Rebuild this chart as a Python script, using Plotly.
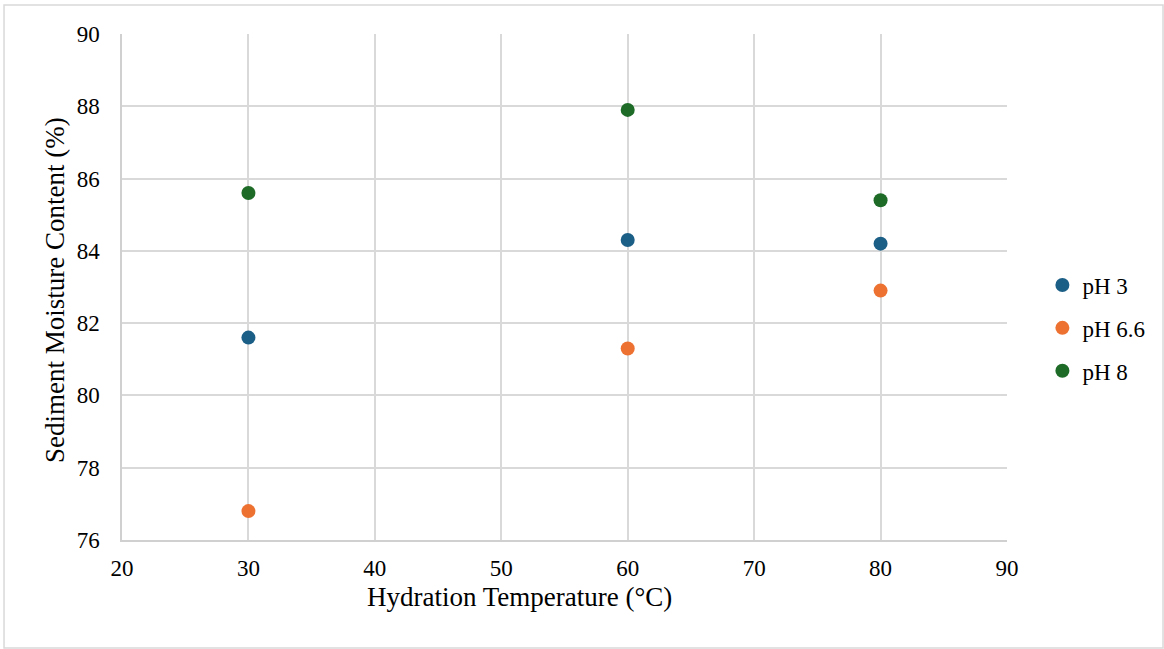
import plotly.graph_objects as go

temps = [30, 60, 80]
ph3 = [81.6, 84.3, 84.2]
ph66 = [76.8, 81.3, 82.9]
ph8 = [85.6, 87.9, 85.4]
names = ["pH 3", "pH 6.6", "pH 8"]
colors = ["#1b5e86", "#ed7232", "#1d6b27"]

fig = go.Figure()
for i, (nm, ys, c) in enumerate(zip(names, [ph3, ph66, ph8], colors)):
    fig.add_trace(go.Scatter(x=temps, y=ys, mode="markers", name=nm,
                             legendgroup=nm,
                             marker=dict(size=14, color=c)))

font = "Liberation Serif"
tf = dict(family=font, size=23, color="black")
fig.update_layout(
    width=1164, height=649,
    margin=dict(l=122, r=157, t=34, b=109),
    paper_bgcolor="white", plot_bgcolor="white",
    font=dict(family=font, size=23, color="black"),
    xaxis=dict(range=[20, 90], dtick=10, showgrid=True, gridcolor="#d9d9d9", gridwidth=1.5,
               showline=True, linecolor="#d0d0d0", linewidth=1.5, zeroline=False,
               ticks="", ticklabelstandoff=7, tickfont=tf),
    yaxis=dict(range=[76, 90], dtick=2, showgrid=True, gridcolor="#d9d9d9", gridwidth=1.5,
               showline=True, linecolor="#d0d0d0", linewidth=1.5, zeroline=False,
               ticks="", ticklabelstandoff=16, tickfont=tf),
    legend=dict(x=1.04, y=0.419, yanchor="middle", xanchor="left",
                font=dict(family=font, size=23, color="black"),
                tracegroupgap=10, itemwidth=30, bgcolor="rgba(0,0,0,0)"),
    annotations=[
        dict(text="Hydration Temperature (°C)", xref="paper", yref="paper",
             x=0.4497, y=-0.1126, xanchor="center", yanchor="middle", showarrow=False,
             font=dict(family=font, size=27, color="black")),
        dict(text="Sediment Moisture Content (%)", xref="paper", yref="paper",
             x=-0.0757, y=0.494, xanchor="center", yanchor="middle", showarrow=False,
             textangle=-90, font=dict(family=font, size=27, color="black")),
    ],
    shapes=[dict(type="rect", xref="paper", yref="paper",
                 x0=-0.1333, x1=1.1763, y0=-0.2134, y1=1.0573,
                 line=dict(color="#d9d9d9", width=1.5), layer="below")],
)
fig.write_html("out.html")
